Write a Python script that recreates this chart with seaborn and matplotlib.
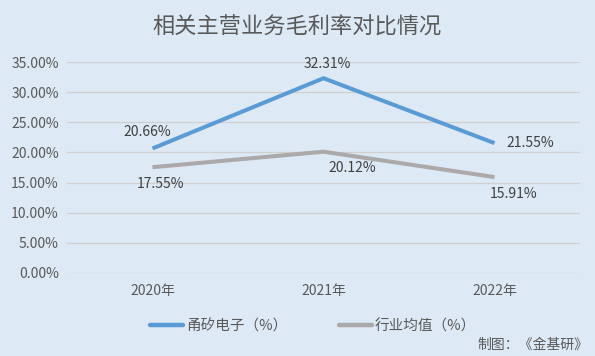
import matplotlib
matplotlib.use("Agg")
import matplotlib.pyplot as plt
import seaborn as sns
import pandas as pd
from matplotlib.lines import Line2D
from matplotlib.ticker import PercentFormatter

years = ["2020年", "2021年", "2022年"]
series_names = ["甬矽电子（%）", "行业均值（%）"]
company = [20.66, 32.31, 21.55]
industry = [17.55, 20.12, 15.91]
title = "相关主营业务毛利率对比情况"
source = "制图：《金基研》"

bg = "#DDE9F5"
colors = ["#5B9BD5", "#ABA9A9"]
txt = "#595959"

sns.set_theme(style="white")
plt.rcParams['font.family'] = ['Noto Sans CJK SC', 'DejaVu Sans']

df = pd.DataFrame({
    "year": years * 2,
    "value": company + industry,
    "series": [series_names[0]] * 3 + [series_names[1]] * 3,
})

fig = plt.figure(figsize=(5.95, 3.56), dpi=100, facecolor=bg)
ax = fig.add_axes([67/595, 83/356, (580-67)/595, (273-62)/356])
ax.set_facecolor(bg)

sns.lineplot(data=df, x="year", y="value", hue="series", palette=colors,
             linewidth=2.9, ax=ax, legend=False, sort=False)
for l in ax.lines:
    l.set_solid_capstyle("butt")

ax.set_xlim(-0.5, 2.5)
ax.set_ylim(0, 35)
ax.set_yticks([0, 5, 10, 15, 20, 25, 30, 35])
ax.yaxis.set_major_formatter(PercentFormatter(decimals=2))
ax.grid(axis="y", color="#D0D0D0", linewidth=0.9)
ax.set_axisbelow(True)
for s in ax.spines.values():
    s.set_visible(False)
ax.set_xlabel("")
ax.set_ylabel("")
ax.tick_params(axis="both", length=0, labelsize=10, colors=txt, pad=6)
ax.tick_params(axis="x", pad=8)

# data labels (offsets in points)
off_c = [(-4, 12), (3, 10), (26, 0)]
off_i = [(6, -12), (21, -12), (14, -12)]
for i, v in enumerate(company):
    ax.annotate(f"{v:.2f}%", (i, v), xytext=off_c[i], textcoords="offset points",
                ha="center", va="center", fontsize=10, color="#404040")
for i, v in enumerate(industry):
    ax.annotate(f"{v:.2f}%", (i, v), xytext=off_i[i], textcoords="offset points",
                ha="center", va="center", fontsize=10, color="#404040")

fig.text(0.5, 1 - 27/356, title, ha="center", va="center", fontsize=16, color=txt)

handles = [Line2D([], [], color=c, linewidth=3.2) for c in colors]
fig.legend(handles, series_names, loc="center", bbox_to_anchor=(313/595, 1 - 326/356),
           ncol=2, frameon=False, fontsize=10.5, handlelength=2.3, handletextpad=0.2,
           columnspacing=3.5, labelcolor=txt)

fig.text(588/595, 1 - 345/356, source, ha="right", va="center", fontsize=10, color=txt)

fig.savefig("out.png", dpi=100, facecolor=bg)
